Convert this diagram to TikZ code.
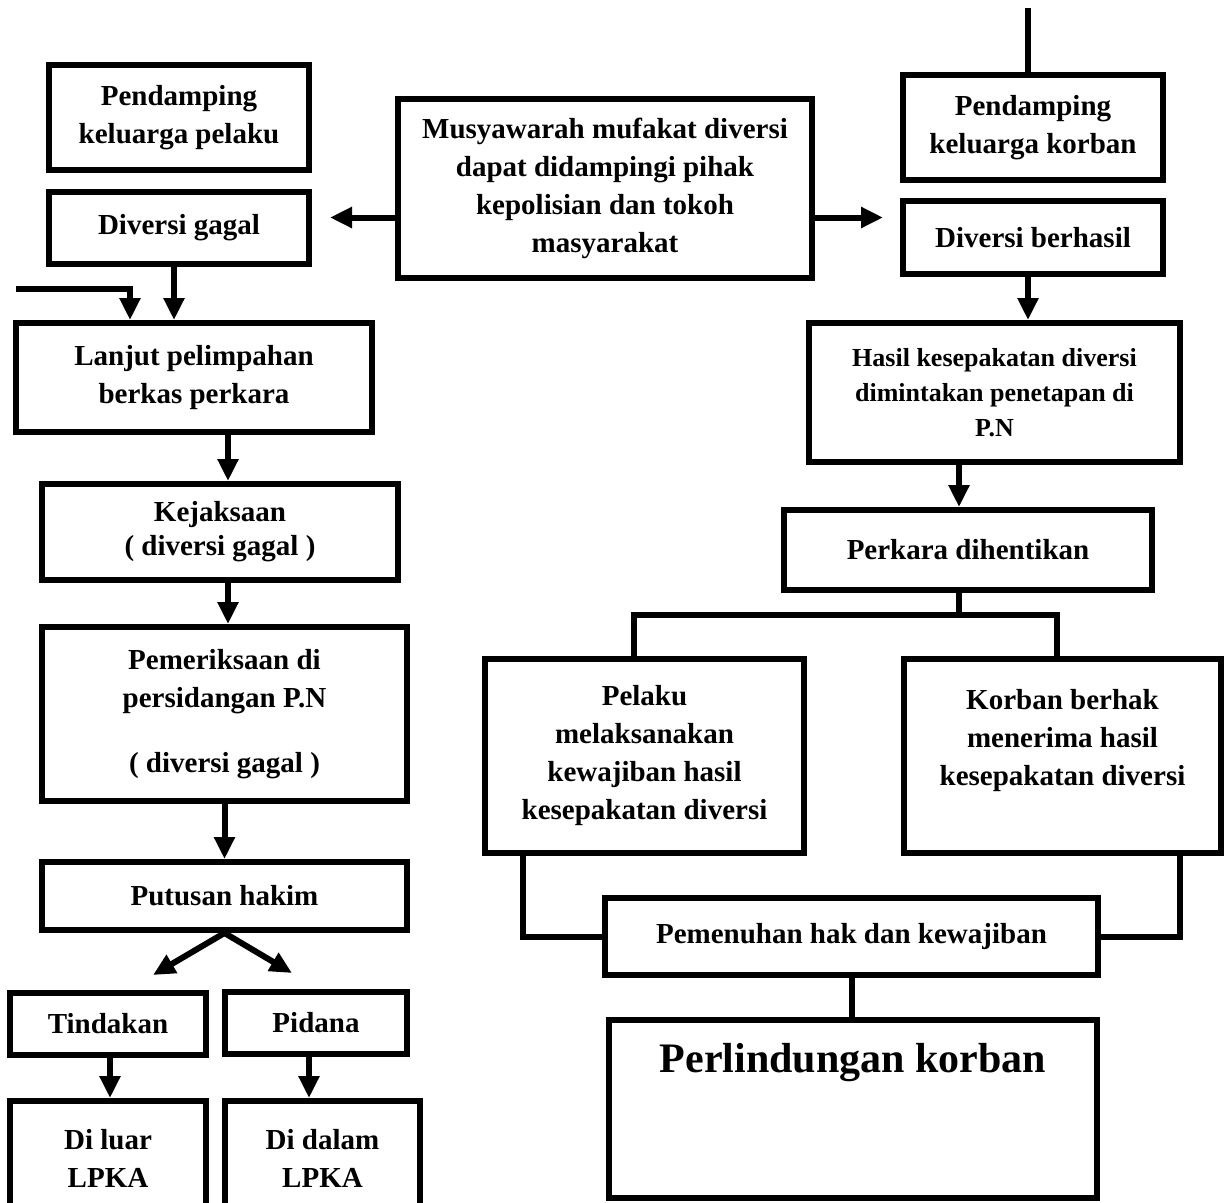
\documentclass[tikz,border=0pt]{standalone}
\usepackage{fontspec}
\setmainfont{Liberation Serif}
\usetikzlibrary{arrows.meta}

\begin{document}
\begin{tikzpicture}
     [
     x=1pt, y=-1pt,
     flowbox/.style={rectangle, draw=black, fill=white, line width=6pt, inner sep=0pt, align=center, font=\bfseries\fontsize{29}{38}\selectfont},
     smallbox/.style={flowbox, font=\bfseries\fontsize{26}{35}\selectfont},
     bigbox/.style={flowbox, font=\bfseries\fontsize{42}{50}\selectfont},
     arrowline/.style={line width=6pt, -{Triangle[length=22pt,width=20pt]}},
     plainline/.style={line width=6pt},
     ]
 \useasboundingbox (0,0) rectangle (1225,1202);
 \clip (0,0) rectangle (1225,1202);
 % left column
 \node at (179,117.5) [flowbox, minimum width=260pt, minimum height=105pt] (pelakufam) {Pendamping\\ keluarga pelaku};
 \node at (179,228) [flowbox, minimum width=260pt, minimum height=72pt] (gagal) {Diversi gagal};
 \node at (194,377.5) [flowbox, minimum width=356pt, minimum height=109pt] (lanjut) {Lanjut pelimpahan\\ berkas perkara};
 \node at (220,532) [flowbox, minimum width=356pt, minimum height=96pt, font=\bfseries\fontsize{29}{34}\selectfont] (jaksa) {Kejaksaan\\ ( diversi gagal )};
 \node at (224.5,714) [flowbox, minimum width=365pt, minimum height=174pt] (periksa) {Pemeriksaan di\\ persidangan P.N\\[27pt] ( diversi gagal )};
 \node at (224.5,896) [flowbox, minimum width=365pt, minimum height=68pt] (putusan) {Putusan hakim};
 \node at (108,1024) [flowbox, minimum width=196pt, minimum height=62pt] (tindakan) {Tindakan};
 \node at (316,1023) [flowbox, minimum width=182pt, minimum height=62pt] (pidana) {Pidana};
 \node at (108,1158) [flowbox, minimum width=196pt, minimum height=114pt] (luar) {Di luar\\ LPKA};
 \node at (322.5,1158) [flowbox, minimum width=195pt, minimum height=114pt] (dalam) {Di dalam\\ LPKA};
 % middle and right column
 \node at (605,188.5) [flowbox, minimum width=414pt, minimum height=179pt] (musy) {Musyawarah mufakat diversi\\ dapat didampingi pihak\\ kepolisian dan tokoh\\ masyarakat};
 \node at (1033,127.5) [flowbox, minimum width=260pt, minimum height=105pt] (korbanfam) {Pendamping\\ keluarga korban};
 \node at (1033,237.5) [flowbox, minimum width=260pt, minimum height=73pt] (berhasil) {Diversi berhasil};
 \node at (994.5,392.5) [smallbox, minimum width=371pt, minimum height=139pt] (hasil) {Hasil kesepakatan diversi\\ dimintakan penetapan di\\ P.N};
 \node at (968,550) [flowbox, minimum width=368pt, minimum height=80pt] (henti) {Perkara dihentikan};
 \node at (644.5,756) [flowbox, minimum width=319pt, minimum height=194pt] (pelakuwajib) {Pelaku\\ melaksanakan\\ kewajiban hasil\\ kesepakatan diversi};
 \node at (1062.5,756) [flowbox, minimum width=317pt, minimum height=194pt] (korbanhak) {Korban berhak\\ menerima hasil\\ kesepakatan diversi\\ \mbox{}};
 \node at (851.5,936.5) [flowbox, minimum width=493pt, minimum height=77pt] (penuhan) {Pemenuhan hak dan kewajiban};
 \node at (853,1109) [bigbox, minimum width=488pt, text height=52pt, text depth=126pt] (lindung) {Perlindungan korban};
 % free ends
 \coordinate (inlet) at (16,289);
 \coordinate (toplead) at (1028,8);
 \coordinate (split) at (959,615);
 \coordinate (tindin) at (153,975);
 \coordinate (pidin) at (292,973);
 % connectors
 \draw[arrowline, shorten >=18pt] ([yshift=-29pt]musy.west) -- ([yshift=-29pt]musy.west -| gagal.east);
 \draw[arrowline, shorten >=17pt] ([yshift=-29pt]musy.east) -- ([yshift=-29pt]musy.east -| berhasil.west);
 \draw[arrowline] ([xshift=-5pt]gagal.south) -- ([xshift=-5pt]gagal.south |- lanjut.north);
 \draw[arrowline] (inlet) -| ([xshift=-64pt]lanjut.north);
 \draw[arrowline] ([xshift=8pt]jaksa.north |- lanjut.south) -- ([xshift=8pt]jaksa.north);
 \draw[arrowline] ([xshift=8pt]jaksa.south) -- ([xshift=8pt]jaksa.south |- periksa.north);
 \draw[arrowline] (periksa.south) -- (periksa.south |- putusan.north);
 \draw[arrowline] (putusan.south) -- (tindin);
 \draw[arrowline] (putusan.south) -- (pidin);
 \draw[arrowline] ([xshift=2pt]tindakan.south) -- ([xshift=2pt]tindakan.south |- luar.north);
 \draw[arrowline] ([xshift=-7pt]pidana.south) -- ([xshift=-7pt]pidana.south |- dalam.north);
 \draw[plainline] (toplead) -- (toplead |- korbanfam.north);
 \draw[arrowline] ([xshift=-5pt]berhasil.south) -- ([xshift=-5pt]berhasil.south |- hasil.north);
 \draw[arrowline] ([xshift=-9pt]henti.north |- hasil.south) -- ([xshift=-9pt]henti.north);
 \draw[plainline] ([xshift=-9pt]henti.south) -- (split);
 \draw[plainline] ([xshift=-10.5pt]pelakuwajib.north) |- (split) -| ([xshift=-5.5pt]korbanhak.north);
 \draw[plainline] ([xshift=-121.5pt]pelakuwajib.south) |- (penuhan.west);
 \draw[plainline] ([xshift=117.5pt]korbanhak.south) |- (penuhan.east);
 \draw[plainline] (penuhan.south) -- (penuhan.south |- lindung.north);
\end{tikzpicture}
\end{document}
